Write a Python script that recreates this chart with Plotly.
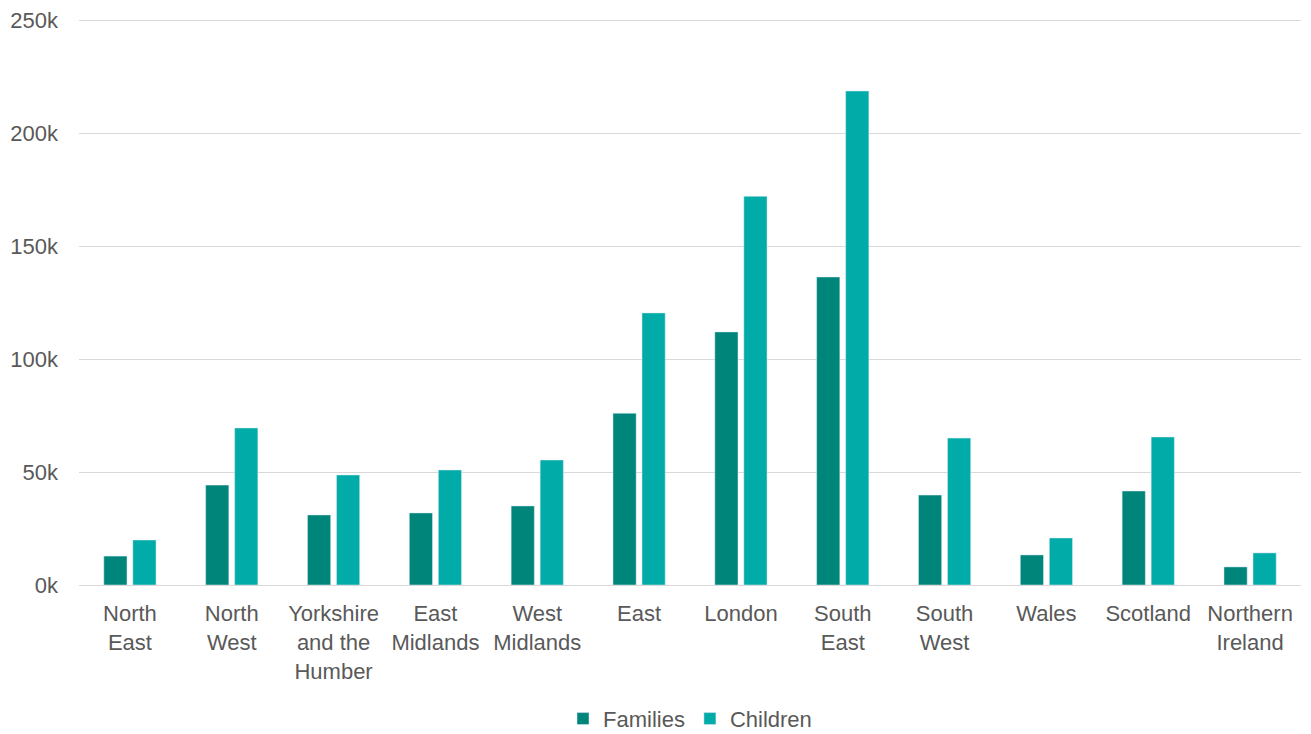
import plotly.graph_objects as go

regions = ["North<br>East", "North<br>West", "Yorkshire<br>and the<br>Humber", "East<br>Midlands",
           "West<br>Midlands", "East", "London", "South<br>East", "South<br>West", "Wales",
           "Scotland", "Northern<br>Ireland"]
families = [12800, 44200, 31000, 31900, 35000, 76000, 112000, 136300, 39800, 13300, 41600, 8000]
children = [19900, 69500, 48700, 50900, 55300, 120400, 172000, 218600, 65000, 20800, 65500, 14200]

tickvals = [0, 50000, 100000, 150000, 200000, 250000]
ticktext = ["0k", "50k", "100k", "150k", "200k", "250k"]

fig = go.Figure()
fig.add_trace(go.Bar(x=regions, y=families, name="Families", marker_color="#00857B"))
fig.add_trace(go.Bar(x=regions, y=children, name="Children", marker_color="#00ABA8"))

fig.update_layout(
    width=1311, height=734,
    margin=dict(l=71, r=18, t=10, b=157, autoexpand=False),
    plot_bgcolor="white", paper_bgcolor="white",
    font=dict(family="Liberation Sans, Arial", size=22, color="#595959"),
    barmode="group", bargap=0.43, bargroupgap=0.2,
    legend=dict(orientation="h", x=0.5, xanchor="center", y=-0.236, yanchor="middle",
                font=dict(size=22), itemwidth=30, traceorder="normal"),
    xaxis=dict(showgrid=False, showline=True, linecolor="#d9d9d9", linewidth=1,
               tickfont=dict(size=22), ticklabelstandoff=9, automargin=False),
    yaxis=dict(range=[0, 250900], tickvals=tickvals, ticktext=ticktext,
               showgrid=True, gridcolor="#d9d9d9", gridwidth=1, zeroline=False,
               showline=False, tickfont=dict(size=22), ticklabelstandoff=20,
               automargin=False, ticklabeloverflow="allow"),
)
fig.write_html("out.html")
